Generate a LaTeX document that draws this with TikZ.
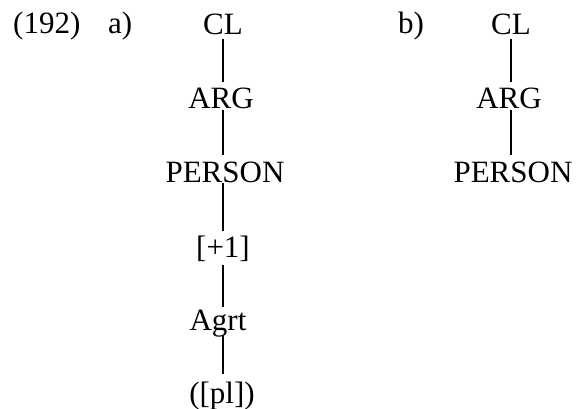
\documentclass[tikz,border=0pt]{standalone}
\usepackage{fontspec}
\setmainfont{Liberation Serif}
\begin{document}
\begin{tikzpicture}[x=1pt,y=1pt,
  lbl/.style={inner sep=0pt, anchor=base, font=\fontsize{31}{37}\selectfont},
  edge/.style={line width=1.2pt}]
\useasboundingbox (0,0) rectangle (576,408);
% example number and panel labels
\node[lbl, anchor=base west] (num) at (13,374) {(192)};
\node[lbl, anchor=base west] (pa) at (108,374) {a)};
\node[lbl, anchor=base west] (pb) at (398,374) {b)};
% tree a)
\node[lbl] (acl)  at (223,373) {CL};
\node[lbl] (aarg) at (221,299) {ARG};
\node[lbl] (aper) at (225,226) {PERSON};
\node[lbl] (aone) at (223,151) {[+1]};
\node[lbl] (aagr) at (218,78)  {Agrt};
\node[lbl] (apl)  at (222,5)   {([pl])};
\draw[edge] ([yshift=-4]acl.base -| 223,0)  -- ([yshift=27]aarg.base -| 223,0);
\draw[edge] ([yshift=-1]aarg.base -| 223,0) -- ([yshift=27]aper.base -| 223,0);
\draw[edge] ([yshift=-1]aper.base -| 223,0) -- ([yshift=26]aone.base -| 223,0);
\draw[edge] ([yshift=-8]aone.base -| 223,0) -- ([yshift=23]aagr.base -| 223,0);
\draw[edge] ([yshift=-6]aagr.base -| 223,0) -- ([yshift=29]apl.base -| 223,0);
% tree b)
\node[lbl] (bcl)  at (511,373) {CL};
\node[lbl] (barg) at (509,299) {ARG};
\node[lbl] (bper) at (513,226) {PERSON};
\draw[edge] ([yshift=-4]bcl.base -| 511,0)  -- ([yshift=27]barg.base -| 511,0);
\draw[edge] ([yshift=-1]barg.base -| 511,0) -- ([yshift=27]bper.base -| 511,0);
\end{tikzpicture}
\end{document}
